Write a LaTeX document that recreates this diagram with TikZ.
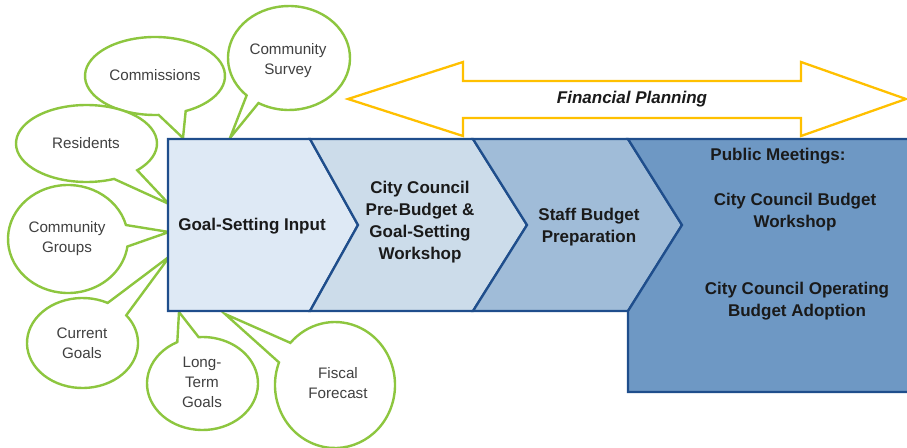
\documentclass[tikz,border=0pt]{standalone}
\usepackage{fontspec}
\setmainfont{Liberation Sans}
\definecolor{gr}{HTML}{8DC63F}
\definecolor{yl}{HTML}{FFC000}
\definecolor{bd}{HTML}{1F4E8C}
\definecolor{fa}{HTML}{DEE9F5}
\definecolor{fb}{HTML}{CCDCEA}
\definecolor{fc}{HTML}{A0BCD8}
\definecolor{fd}{HTML}{6E98C4}
\definecolor{tx}{HTML}{1A1A1A}
\definecolor{bt}{HTML}{404040}
\tikzset{
  bubble/.style={draw=gr, line width=2.4pt, fill=white, line join=miter},
  stage/.style={draw=bd, line width=2.3pt, line join=miter},
  btxt/.style={font=\fontsize{15.2}{20}\selectfont, text=bt, align=center, inner sep=0pt},
  mtxt/.style={font=\fontsize{17}{22.2}\selectfont\bfseries, text=tx, align=center, inner sep=0pt},
  fparrow/.style={draw=yl, line width=2.3pt, fill=white, line join=miter},
}
% cx, cy, rx, ry, start angle, end angle, tip x, tip y  (pixel coords, y down)
\newcommand\callout[8]{\draw[bubble] (#1,-#2) ++(#5:#3pt and #4pt) arc[start angle=#5, end angle=#6, x radius=#3pt, y radius=#4pt] -- (#7,-#8) -- cycle;}
\begin{document}
\begin{tikzpicture}[x=1pt,y=1pt]
\useasboundingbox (0,0) rectangle (907,-447);
\clip (0,0) rectangle (907,-447);

% callout bubbles
\callout{155}{76}{70}{39}{296}{633}{183}{138}
\callout{289}{58}{61}{52}{240}{586}{230}{138}
\callout{86.5}{143.5}{70.5}{38.5}{316}{653}{169}{204}
\callout{68}{239}{60}{54}{15}{352}{169}{232}
\callout{82.5}{343}{55.5}{45}{63}{398}{170}{256}
\callout{202.5}{383.5}{55.5}{46.5}{117}{454}{179}{312}
\callout{335}{385}{60}{63}{159}{498}{225}{314}

\node[btxt] (commissions) at (155,-75) {Commissions};
\node[btxt] (survey) at (288,-61) {Community\\Survey};
\node[btxt] (residents) at (86,-143) {Residents};
\node[btxt] (groups) at (67,-239) {Community\\Groups};
\node[btxt] (current) at (82,-343) {Current\\Goals};
\node[btxt] (longterm) at (202,-382) {Long-\\Term\\Goals};
\node[btxt] (fiscal) at (338,-383) {Fiscal\\Forecast};

% stages
\draw[stage, fill=fa] (168,-139) -- (310,-139) -- (358,-225) -- (310,-311) -- (168,-311) -- cycle;
\draw[stage, fill=fb] (310,-139) -- (473,-139) -- (527,-225) -- (473,-311) -- (310,-311) -- (358,-225) -- cycle;
\draw[stage, fill=fc] (473,-139) -- (628,-139) -- (682,-225) -- (628,-311) -- (473,-311) -- (527,-225) -- cycle;
\draw[stage, fill=fd] (628,-139) -- (915,-139) -- (915,-392) -- (628,-392) -- (628,-311) -- (682,-225) -- cycle;

\node[mtxt] (gsi) at (252,-226) {Goal-Setting Input};
\node[mtxt] (ccp) at (420,-222) {City Council\\Pre-Budget \&\\Goal-Setting\\Workshop};
\node[mtxt] (sbp) at (589,-227) {Staff Budget\\Preparation};
\node[mtxt] (pm) at (778,-156) {Public Meetings:};
\node[mtxt] (ccbw) at (795,-212) {City Council Budget\\Workshop};
\node[mtxt] (ccoba) at (797,-301) {City Council Operating\\Budget Adoption};

% financial planning double arrow
\draw[fparrow] (348,-99) -- (463,-62) -- (463,-81) -- (801,-81) -- (801,-62) -- (906,-99) -- (801,-136) -- (801,-118) -- (463,-118) -- (463,-136) -- cycle;
\node[font=\fontsize{17}{20}\selectfont\bfseries\itshape, text=tx, inner sep=0pt] (fp) at (632,-99) {Financial Planning};
\end{tikzpicture}
\end{document}
